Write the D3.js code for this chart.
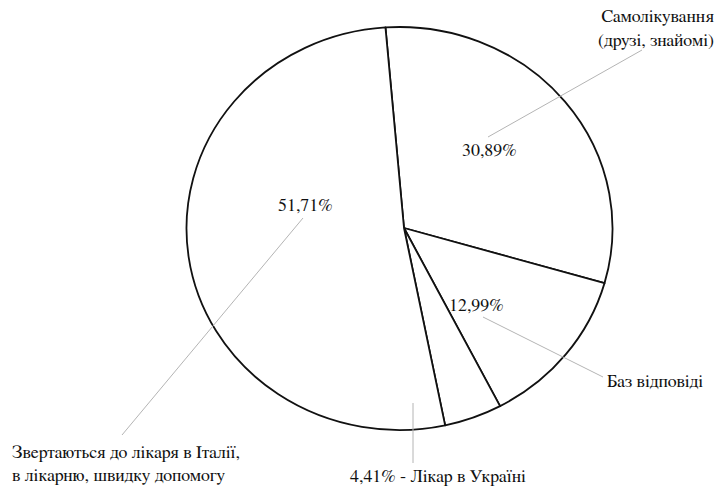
<!DOCTYPE html>
<html>
<head>
<meta charset="utf-8">
<script src="https://cdn.jsdelivr.net/npm/d3@7"></script>
<style>
  html, body { margin: 0; padding: 0; background: #fff; }
  svg { display: block; }
</style>
</head>
<body>
<svg id="chart" width="722" height="488"></svg>
<script>
// Where respondents turn for medical help
const categories = [
  "Самолікування (друзі, знайомі)",
  "Баз відповіді",
  "Лікар в Україні",
  "Звертаються до лікаря в Італії, в лікарню, швидку допомогу"
];
const shares = [30.89, 12.99, 4.41, 51.71];
const valueLabels = ["30,89%", "12,99%", "4,41%", "51,71%"];

const svg = d3.select("#chart");
const serif = "\"FreeSerif\", \"Liberation Serif\", \"Times New Roman\"";

// Elliptical pie body and the hub the slice edges meet at
const ell = { cx: 399.5, cy: 228.5, rx: 213, ry: 201.5 };
const hub = { x: 404, y: 228 };

const pie = d3.pie().sort(null).value(d => d)
  .startAngle(-5 * Math.PI / 180)
  .endAngle(2 * Math.PI - 5 * Math.PI / 180);
const arcs = pie(shares);

// Point where a ray from the hub at pie angle a meets the ellipse
function rim(a) {
  const dx = Math.sin(a) * ell.rx, dy = -Math.cos(a) * ell.ry;
  const px = (hub.x - ell.cx) / ell.rx, py = (hub.y - ell.cy) / ell.ry;
  const ux = dx / ell.rx, uy = dy / ell.ry;
  const A = ux * ux + uy * uy, B = 2 * (px * ux + py * uy), C = px * px + py * py - 1;
  const t = (-B + Math.sqrt(B * B - 4 * A * C)) / (2 * A);
  return [hub.x + t * dx, hub.y + t * dy];
}

const g = svg.append("g");
g.selectAll("path.slice")
  .data(arcs)
  .join("path")
  .attr("class", "slice")
  .attr("d", d => {
    const p0 = rim(d.startAngle), p1 = rim(d.endAngle);
    const large = (d.endAngle - d.startAngle) > Math.PI ? 1 : 0;
    return `M${hub.x},${hub.y}L${p0[0]},${p0[1]}A${ell.rx},${ell.ry} 0 ${large} 1 ${p1[0]},${p1[1]}Z`;
  })
  .attr("fill", "#fff")
  .attr("stroke", "#111")
  .attr("stroke-width", 1.8)
  .attr("stroke-linejoin", "round");

// Leader lines and labels
const fs = 17.9;
const layout = [
  { value: [462, 156, "start"], name: [[714, 22], [714, 46]], nameAnchor: "end",
    nameLines: ["Самолікування", "(друзі, знайомі)"], leader: [[488, 137], [642, 50]] },
  { value: [449, 311, "start"], name: [[607, 387]], nameAnchor: "start",
    nameLines: ["Баз відповіді"], leader: [[483, 317], [603, 377]] },
  { value: null, name: [[350, 482]], nameAnchor: "start",
    nameLines: [valueLabels[2] + " - " + categories[2]], leader: [[413, 403], [413, 463]] },
  { value: [278, 211, "start"], name: [[12, 458], [12, 481]], nameAnchor: "start",
    nameLines: ["Звертаються до лікаря в Італії,", "в лікарню, швидку допомогу"], leader: [[303, 218], [122, 435]] }
];

const lab = svg.append("g");
arcs.forEach((d, i) => {
  const L = layout[i];
  lab.append("line")
    .attr("x1", L.leader[0][0]).attr("y1", L.leader[0][1])
    .attr("x2", L.leader[1][0]).attr("y2", L.leader[1][1])
    .attr("stroke", "#b4b4b4").attr("stroke-width", 1);
  const texts = [];
  if (L.value) texts.push({ x: L.value[0], y: L.value[1], anchor: L.value[2], t: valueLabels[i] });
  L.nameLines.forEach((t, k) => texts.push({ x: L.name[k][0], y: L.name[k][1], anchor: L.nameAnchor, t }));
  texts.forEach(o => {
    lab.append("text")
      .attr("x", o.x).attr("y", o.y)
      .attr("text-anchor", o.anchor)
      .style("font-family", serif)
      .attr("font-size", fs)
      .attr("fill", "#111")
      .text(o.t);
  });
});
</script>
</body>
</html>
